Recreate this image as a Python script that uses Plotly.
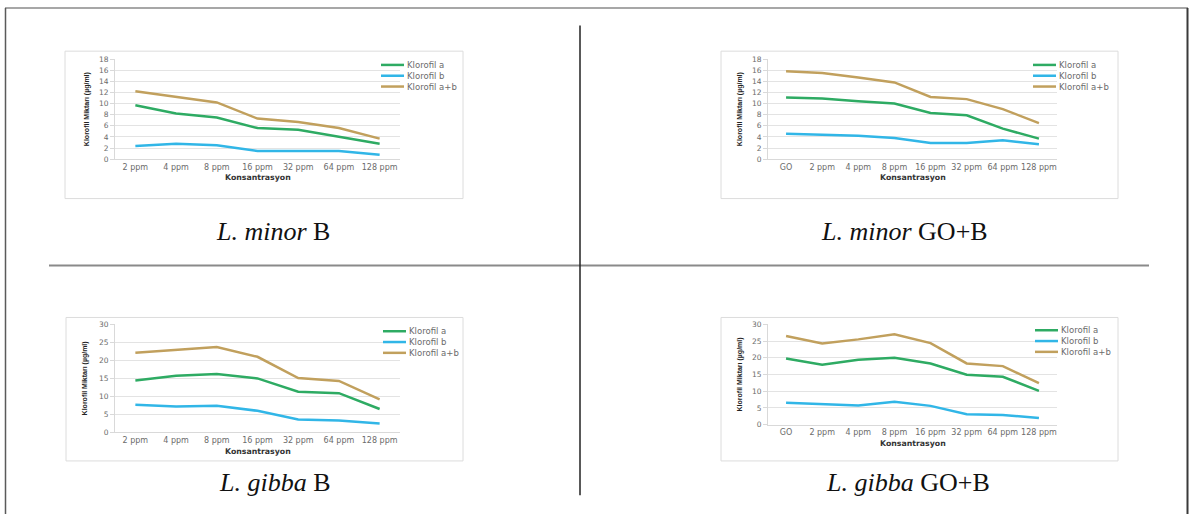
import plotly.graph_objects as go

W, H = 1191, 519

# ---------------- data ----------------
cats_B = ["2 ppm", "4 ppm", "8 ppm", "16 ppm", "32 ppm", "64 ppm", "128 ppm"]
cats_GOB = ["GO", "2 ppm", "4 ppm", "8 ppm", "16 ppm", "32 ppm", "64 ppm", "128 ppm"]
series_names = ["Klorofil a", "Klorofil b", "Klorofil a+b"]
series_colors = ["#2EAB63", "#31B6E7", "#C1A05D"]

minorB_a = [9.7, 8.2, 7.5, 5.6, 5.3, 4.0, 2.8]
minorB_b = [2.4, 2.8, 2.5, 1.5, 1.5, 1.5, 0.8]
minorB_ab = [12.2, 11.2, 10.2, 7.3, 6.7, 5.6, 3.7]

minorGOB_a = [11.1, 10.9, 10.4, 10.0, 8.3, 7.9, 5.5, 3.7]
minorGOB_b = [4.6, 4.4, 4.2, 3.8, 2.9, 2.9, 3.4, 2.7]
minorGOB_ab = [15.8, 15.5, 14.7, 13.8, 11.2, 10.8, 9.0, 6.5]

gibbaB_a = [14.4, 15.7, 16.2, 15.0, 11.3, 10.9, 6.5]
gibbaB_b = [7.7, 7.2, 7.4, 6.0, 3.6, 3.3, 2.5]
gibbaB_ab = [22.1, 23.0, 23.7, 21.0, 15.1, 14.3, 9.2]

gibbaGOB_a = [19.8, 17.9, 19.4, 20.0, 18.3, 14.9, 14.3, 10.1]
gibbaGOB_b = [6.5, 6.0, 5.7, 6.8, 5.6, 3.1, 2.9, 2.0]
gibbaGOB_ab = [26.5, 24.3, 25.5, 27.0, 24.4, 18.3, 17.5, 12.4]

captions = ["<i>L. minor</i> B", "<i>L. minor</i> GO+B", "<i>L. gibba</i> B", "<i>L. gibba</i> GO+B"]
y_title = "Klorofil Miktarı (µg/ml)"
x_title = "Konsantrasyon"

panels = [
    dict(cats=cats_B, vals=[minorB_a, minorB_b, minorB_ab], ymax=18, dtick=2,
         plot=(115, 400, 56, 158), box=(65, 463, 48, 198), leg=(381, 62), ytx=87,
         cap=(273, 232)),
    dict(cats=cats_GOB, vals=[minorGOB_a, minorGOB_b, minorGOB_ab], ymax=18, dtick=2,
         plot=(768, 1057, 56, 158), box=(721, 1118, 48, 198), leg=(1033, 62), ytx=740,
         cap=(904, 232)),
    dict(cats=cats_B, vals=[gibbaB_a, gibbaB_b, gibbaB_ab], ymax=30, dtick=5,
         plot=(115, 400, 326, 436), box=(66, 463, 319, 465), leg=(383, 333), ytx=85,
         cap=(275, 487)),
    dict(cats=cats_GOB, vals=[gibbaGOB_a, gibbaGOB_b, gibbaGOB_ab], ymax=30, dtick=5,
         plot=(768, 1057, 326, 428), box=(721, 1118, 319, 465), leg=(1035, 332), ytx=740,
         cap=(908, 487)),
]


def px(x):
    return x / W


def py(y):
    return 1 - y / H


fig = go.Figure()
shapes = []
annotations = []
layout_axes = {}

for i, p in enumerate(panels):
    n = i + 1
    xa = "x" if n == 1 else f"x{n}"
    ya = "y" if n == 1 else f"y{n}"
    xkey = "xaxis" if n == 1 else f"xaxis{n}"
    ykey = "yaxis" if n == 1 else f"yaxis{n}"
    x0, x1, y0, y1 = p["plot"]
    for name, color, vals in zip(series_names, series_colors, p["vals"]):
        fig.add_trace(go.Scatter(x=p["cats"], y=vals, mode="lines", name=name,
                                 line=dict(color=color, width=2.5),
                                 xaxis=xa, yaxis=ya, showlegend=False))
    layout_axes[xkey] = dict(domain=[px(x0), px(x1)], anchor=ya, type="category",
                             range=[-0.5, len(p["cats"]) - 0.5],
                             showgrid=False, showline=True, linecolor="#D9D9D9", linewidth=1,
                             ticks="", tickfont=dict(family="DejaVu Sans", size=8, color="#6B6B6B"),
                             fixedrange=True)
    layout_axes[ykey] = dict(domain=[py(y1), py(y0)], anchor=xa, range=[0, p["ymax"]],
                             dtick=p["dtick"], showgrid=True, gridcolor="#E3E3E3", gridwidth=1,
                             zeroline=False, showline=True, linecolor="#D9D9D9", linewidth=1,
                             ticks="outside", ticklen=4, tickcolor="#D9D9D9",
                             tickfont=dict(family="DejaVu Sans", size=7.5, color="#6B6B6B"),
                             fixedrange=True)
    # chart box
    bx0, bx1, by0, by1 = p["box"]
    shapes.append(dict(type="rect", xref="paper", yref="paper", x0=px(bx0), x1=px(bx1),
                       y0=py(by1), y1=py(by0), line=dict(color="#DCDCDC", width=1),
                       layer="below"))
    # y title
    annotations.append(dict(xref="paper", yref="paper", x=px(p["ytx"]), y=py((y0 + y1) / 2),
                            text=f"<b>{y_title}</b>", textangle=-90, showarrow=False,
                            font=dict(family="Liberation Sans Narrow, Liberation Sans", size=7,
                                      color="#222222"),
                            xanchor="center", yanchor="middle"))
    # x title
    annotations.append(dict(xref="paper", yref="paper", x=px((x0 + x1) / 2), y=py(y1 + 19),
                            text=f"<b>{x_title}</b>", showarrow=False,
                            font=dict(family="DejaVu Sans", size=7.8, color="#333333"),
                            xanchor="center", yanchor="middle"))
    # legend
    lx, ly = p["leg"]
    for k, (name, color) in enumerate(zip(series_names, series_colors)):
        yy = ly + 11 * k
        shapes.append(dict(type="line", xref="paper", yref="paper", x0=px(lx), x1=px(lx + 23),
                           y0=py(yy), y1=py(yy), line=dict(color=color, width=2.5)))
        annotations.append(dict(xref="paper", yref="paper", x=px(lx + 24), y=py(yy),
                                text=name, showarrow=False, xanchor="left", yanchor="middle",
                                font=dict(family="DejaVu Sans", size=8.5, color="#6B6B6B")))
    # caption
    cx, cy = p["cap"]
    annotations.append(dict(xref="paper", yref="paper", x=px(cx), y=py(cy), text=captions[i],
                            showarrow=False, xanchor="center", yanchor="middle",
                            font=dict(family="Liberation Serif", size=26, color="#111111")))

# frame and dividers
shapes += [
    dict(type="line", xref="paper", yref="paper", x0=px(5), x1=px(1188), y0=py(4), y1=py(4),
         line=dict(color="#8A8A8A", width=1.5)),
    dict(type="line", xref="paper", yref="paper", x0=px(5.5), x1=px(5.5), y0=py(4), y1=py(519),
         line=dict(color="#5A5A5A", width=1.5)),
    dict(type="line", xref="paper", yref="paper", x0=px(1187.5), x1=px(1187.5), y0=py(4), y1=py(519),
         line=dict(color="#3A3A3A", width=2)),
    dict(type="line", xref="paper", yref="paper", x0=px(49), x1=px(1149), y0=py(266), y1=py(266),
         line=dict(color="#8A8A8A", width=2)),
    dict(type="line", xref="paper", yref="paper", x0=px(580), x1=px(580), y0=py(22), y1=py(500),
         line=dict(color="#222222", width=1.5)),
]

fig.update_layout(width=W, height=H, margin=dict(l=0, r=0, t=0, b=0),
                  paper_bgcolor="white", plot_bgcolor="white",
                  shapes=shapes, annotations=annotations, showlegend=False,
                  **layout_axes)

fig.write_html("out.html")
